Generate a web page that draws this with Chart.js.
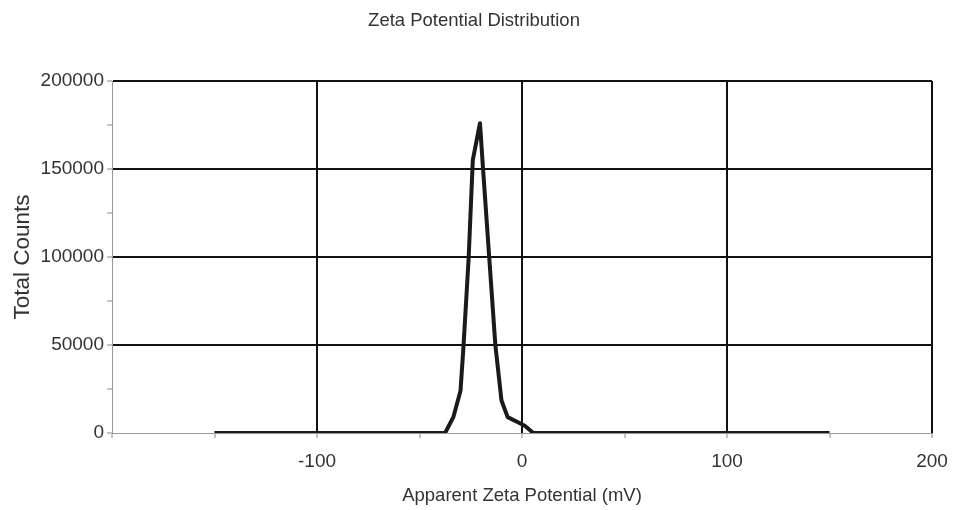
<!DOCTYPE html>
<html>
<head>
<meta charset="utf-8">
<script src="https://cdn.jsdelivr.net/npm/chart.js@4/dist/chart.umd.min.js"></script>
<style>
  html, body { margin: 0; padding: 0; background: #fff; }
  #wrap { width: 955px; height: 510px; }
</style>
</head>
<body>
<div id="wrap"><canvas id="zeta"></canvas></div>
<script>
// values
const zetaMv = [-150, -37.5, -33.5, -30, -28.5, -26, -24, -20.5, -19, -16, -13, -10, -7, -1, 1.5, 5.5, 150];
const totalCounts = [0, 0, 9000, 24000, 50000, 100000, 155000, 176000, 150000, 100000, 50000, 18500, 9000, 5500, 4000, 0, 0];
const xTickLabels = [-100, 0, 100, 200];
const yTickLabels = [0, 50000, 100000, 150000, 200000];

const points = zetaMv.map((v, i) => ({ x: v, y: totalCounts[i] }));
const fontFamily = '"Liberation Sans", Arial, sans-serif';

const chart = new Chart(document.getElementById('zeta'), {
    type: 'line',
    data: {
        datasets: [{
            data: points,
            borderColor: '#1a1a1a',
            borderWidth: 4,
            borderJoinStyle: 'round',
            borderCapStyle: 'butt',
            pointRadius: 0,
            tension: 0,
            fill: false,
        }]
    },
    options: {
        responsive: true,
        maintainAspectRatio: false,
        animation: false,
        layout: { padding: { left: 16, right: 23, top: 0, bottom: 0 } },
        plugins: {
            legend: { display: false },
            tooltip: { enabled: false },
            title: {
                display: true,
                text: 'Zeta Potential Distribution',
                color: '#333',
                font: { family: fontFamily, size: 18.5, weight: 'normal', lineHeight: 1.2 },
                padding: { top: 10, bottom: 48.8 },
            },
        },
        scales: {
            x: {
                type: 'linear',
                min: -200,
                max: 200,
                ticks: {
                    stepSize: 50,
                    color: '#333',
                    font: { family: fontFamily, size: 19 },
                    padding: 12,
                    maxRotation: 0,
                    autoSkip: false,
                    callback: (v) => xTickLabels.includes(v) ? String(v) : '',
                },
                grid: {
                    color: (c) => xTickLabels.includes(c.tick && c.tick.value) ? '#111' : 'rgba(0,0,0,0)',
                    lineWidth: 2,
                    tickColor: '#888',
                    tickLength: 5,
                    tickWidth: 1,
                },
                border: { display: true, color: '#999', width: 1 },
                title: {
                    display: true,
                    text: 'Apparent Zeta Potential (mV)',
                    color: '#333',
                    font: { family: fontFamily, size: 18.5, lineHeight: 1.2 },
                    padding: { top: 0, bottom: 3 },
                },
                afterFit: (scale) => {
                    scale.height = 77;
                    scale.paddingRight = 0;
                    scale.paddingLeft = 0;
                },
            },
            y: {
                min: 0,
                max: 200000,
                ticks: {
                    stepSize: 25000,
                    color: '#333',
                    font: { family: fontFamily, size: 19 },
                    padding: 3,
                    autoSkip: false,
                    callback: (v) => yTickLabels.includes(v) ? String(v) : '',
                },
                grid: {
                    color: (c) => {
                        const v = c.tick && c.tick.value;
                        return (v !== 0 && yTickLabels.includes(v)) ? '#111' : 'rgba(0,0,0,0)';
                    },
                    lineWidth: 2,
                    tickColor: '#888',
                    tickLength: 5,
                    tickWidth: 1,
                },
                border: { display: true, color: '#999', width: 1 },
                title: {
                    display: true,
                    text: 'Total Counts',
                    color: '#333',
                    font: { family: fontFamily, size: 22.5, lineHeight: 1.2 },
                    padding: { top: -7, bottom: 0 },
                },
                afterFit: (scale) => { scale.width = 96; },
            },
        },
    },
});
</script>
</body>
</html>
